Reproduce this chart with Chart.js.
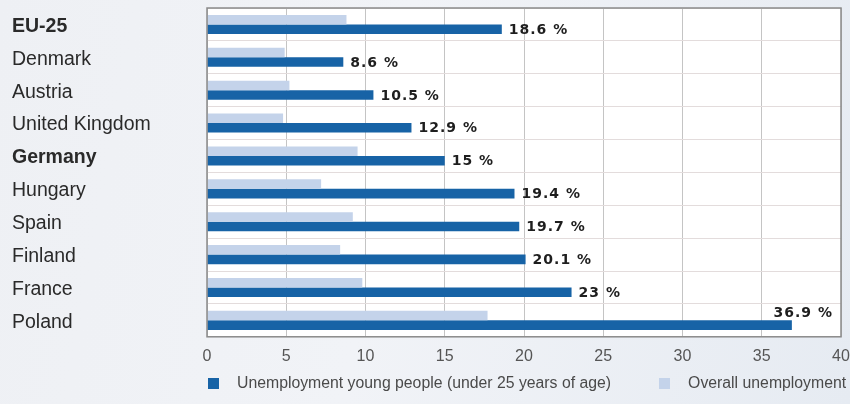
<!DOCTYPE html>
<html>
<head>
<meta charset="utf-8">
<script src="https://cdn.jsdelivr.net/npm/chart.js@4"></script>
<style>
  html, body { margin: 0; padding: 0; }
  body {
    width: 850px; height: 404px; overflow: hidden;
    background: linear-gradient(100deg, #eef0f4 0%, #f1f3f7 45%, #e6ebf2 100%);
  }
  #wrap { position: relative; width: 850px; height: 404px; }
  canvas { display: block; }
  #legend {
    position: absolute; left: 208px; top: 373px; height: 20px;
    display: flex; align-items: center;
    font-family: "Liberation Sans", Arial, sans-serif; font-size: 15.8px; color: #4a4a4a;
  }
  #legend .item { display: flex; align-items: center; margin-right: 48px; white-space: nowrap; }
  #legend .item:last-child { margin-right: 0; }
  #legend .box { width: 11px; height: 11px; margin-right: 18px; }
</style>
</head>
<body>
<div id="wrap">
  <canvas id="unemploymentChart" width="850" height="404"></canvas>
  <div id="legend"></div>
</div>
<script>
const countries = ["EU-25", "Denmark", "Austria", "United Kingdom", "Germany", "Hungary", "Spain", "Finland", "France", "Poland"];
const youngPeople = [18.6, 8.6, 10.5, 12.9, 15, 19.4, 19.7, 20.1, 23, 36.9];
const overall = [8.8, 4.9, 5.2, 4.8, 9.5, 7.2, 9.2, 8.4, 9.8, 17.7];
const boldRows = ["EU-25", "Germany"];
const xTicks = [0, 5, 10, 15, 20, 25, 30, 35, 40];

const darkBlue = "#1763a6";
const lightBlue = "#c4d3ea";

// white plot area + frame
const plotFrame = {
    id: "plotFrame",
    beforeDraw(chart) {
        const { ctx, chartArea: a } = chart;
        ctx.save();
        ctx.fillStyle = "#ffffff";
        ctx.fillRect(a.left, a.top, a.right - a.left, a.bottom - a.top);
        ctx.restore();
    },
    afterDatasetsDraw(chart) {
        const { ctx, chartArea: a } = chart;
        ctx.save();
        ctx.strokeStyle = "#8a8a8a";
        ctx.lineWidth = 1.5;
        ctx.strokeRect(a.left, a.top, a.right - a.left, a.bottom - a.top);
        ctx.restore();
    },
};

// "18.6 %" labels next to the young people bars
const valueLabels = {
    id: "valueLabels",
    afterDatasetsDraw(chart) {
        const { ctx, chartArea: a } = chart;
        const meta = chart.getDatasetMeta(1);
        ctx.save();
        ctx.font = "bold 14px 'DejaVu Sans'";
        ctx.letterSpacing = "1px";
        ctx.fillStyle = "#1e1e1e";
        ctx.textBaseline = "middle";
        meta.data.forEach((bar, i) => {
            const text = youngPeople[i] + " %";
            const w = ctx.measureText(text).width;
            if (bar.x + 7 + w > a.right - 4) {
                ctx.textAlign = "right";
                ctx.fillText(text, a.right - 8, bar.y - bar.height - 2);
            } else {
                ctx.textAlign = "left";
                ctx.fillText(text, bar.x + 7, bar.y + 1);
            }
        });
        ctx.restore();
    },
};

// legend as html under the chart (young people first)
const htmlLegend = {
    id: "htmlLegend",
    afterUpdate(chart) {
        const box = document.getElementById("legend");
        box.innerHTML = "";
        const order = [1, 0];
        order.forEach((di) => {
            const ds = chart.data.datasets[di];
            const item = document.createElement("div");
            item.className = "item";
            const sw = document.createElement("span");
            sw.className = "box";
            sw.style.background = ds.backgroundColor;
            const label = document.createElement("span");
            label.textContent = ds.label;
            item.appendChild(sw);
            item.appendChild(label);
            box.appendChild(item);
        });
    },
};

const ctx = document.getElementById("unemploymentChart").getContext("2d");
const unemploymentChart = new Chart(ctx, {
    type: "bar",
    data: {
        labels: countries,
        datasets: [
            {
                label: "Overall unemployment",
                data: overall,
                backgroundColor: lightBlue,
                borderWidth: 0,
            },
            {
                label: "Unemployment young people (under 25 years of age)",
                data: youngPeople,
                backgroundColor: darkBlue,
                borderWidth: 0,
            },
        ],
    },
    options: {
        indexAxis: "y",
        responsive: false,
        animation: false,
        devicePixelRatio: 1,
        datasets: {
            bar: {
                categoryPercentage: 0.58,
                barPercentage: 1.0,
            },
        },
        layout: {
            padding: { left: 12, right: 9, top: 8, bottom: 28 },
        },
        plugins: {
            legend: { display: false },
            tooltip: { enabled: false },
        },
        scales: {
            x: {
                min: 0,
                max: 40,
                afterBuildTicks: (scale) => {
                    scale.ticks = xTicks.map((v) => ({ value: v }));
                },
                afterFit: (scale) => {
                    scale.paddingLeft = 0;
                    scale.paddingRight = 0;
                },
                grid: {
                    color: "#c4c4c4",
                    drawTicks: false,
                },
                border: { display: false },
                ticks: {
                    padding: 10,
                    maxRotation: 0,
                    color: "#555555",
                    font: { family: "'Liberation Sans'", size: 16 },
                },
            },
            y: {
                grid: {
                    color: "#e3dcdc",
                    drawTicks: false,
                },
                border: { display: false },
                afterFit: (scale) => {
                    scale.width = 195;
                    scale.paddingTop = 0;
                    scale.paddingBottom = 0;
                },
                ticks: {
                    crossAlign: "far",
                    padding: 0,
                    labelOffset: 2,
                    color: "#2a2a2a",
                    font: (c) => ({
                        family: "'Liberation Sans'",
                        size: 19.5,
                        weight: boldRows.includes(countries[c.index]) ? "bold" : "normal",
                    }),
                },
            },
        },
    },
    plugins: [plotFrame, valueLabels, htmlLegend],
});
</script>
</body>
</html>
